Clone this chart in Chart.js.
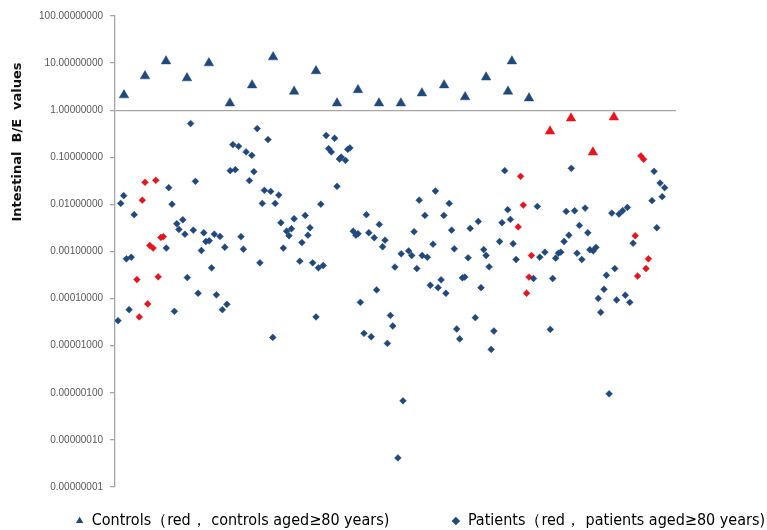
<!DOCTYPE html>
<html>
<head>
<meta charset="utf-8">
<script src="https://cdn.jsdelivr.net/npm/chart.js@4"></script>
<style>
  body { margin: 0; background: #fff; }
  #wrap { width: 767px; height: 530px; }
</style>
</head>
<body>
<div id="wrap"><canvas id="chart" width="767" height="530"></canvas></div>
<script>
// y axis: powers of ten shown as 8-decimal labels
const yTicks = [100, 10, 1, 0.1, 0.01, 0.001, 0.0001, 0.00001, 0.000001, 0.0000001, 0.00000001];
const yTitle = "Intestinal  B/E  values";
const legendLabels = ["Controls（red， controls aged≥80 years)", "Patients（red， patients aged≥80 years)"];

// x = sample position along the (unlabelled) horizontal axis
const controlX = [3, 10, 17, 24, 31.3, 38.3, 45.7, 52.7, 59.7, 67, 74, 81, 88, 95.3, 102.3, 109.7, 116.7, 123.7, 131, 132.3, 138];
const controlY = [2.09, 5.3, 11.0, 4.8, 10.0, 1.41, 3.4, 13.4, 2.5, 6.8, 1.41, 2.7, 1.41, 1.41, 2.3, 3.4, 1.9, 5.0, 2.5, 11.0, 1.8];

const controlOldX = [145, 152, 159.3, 166.3];
const controlOldY = [0.357, 0.675, 0.128, 0.71];

const patientX = [
  25.2, 39.3, 41.2, 43.7, 45.6, 38.4, 40.1, 46.3, 44.8, 26.8, 17.9, 2.9, 1.9, 19, 6.4, 20.6, 22.6, 21.3, 23.3, 26.1,
  29.6, 30.3, 31.4, 33.1, 35, 42, 36.6, 42.8, 17.1, 28.8, 3.8, 5.4, 32.2, 24.1, 27.7, 33.8, 37.3, 35.8, 4.7, 19.8, 1,
  47.4, 51, 70.4, 73.2, 71.2, 72.1, 77.6, 78.3, 75.4, 74.8, 76.8, 74, 49.8, 51.9, 54.6, 49.1, 53.4, 68.6, 63.4, 59.7,
  55.3, 57.2, 58.8, 58, 65, 64.3, 62.3, 56.1, 48.3, 61.6, 65.9, 67.8, 69.4, 83.8, 88.1, 79.4, 80.3, 81, 84.6, 86.4,
  90, 89.2, 93.3, 87.2, 81.8, 67, 91.8, 92.6, 83, 85.4, 90.8, 52.6,
  129.9, 106.8, 101.4, 111.4, 130.9, 103.3, 109.6, 121.1, 129, 131.8, 99.7, 112.2, 118.4, 106, 128.2, 132.7, 113.1,
  97.9, 95.4, 98.9, 102.4, 104.1, 122.9, 123.7, 117.7, 133.7, 100.6, 124.7, 139.5, 115.8, 116.6, 108.7, 105.1, 107.7,
  110.3, 122, 120.1, 113.9, 126.3, 114.9, 125.4,
  152.1, 179.7, 181.7, 183.2, 179, 182.4, 180.6, 140.8, 150.4, 153.2, 156.7, 165.6, 168, 169.2, 170.8, 154.8, 157.6,
  151.3, 149.7, 143.3, 141.6, 146.9, 147.8, 148.6, 154, 155.6, 158.3, 159.4, 160.3, 172.7, 166.6, 163.8, 145.9, 163,
  161.1, 167.2, 170.1, 171.6, 161.9, 145.1,
  96, 94.3, 164.7
];
const patientY = [
  0.52, 0.186, 0.171, 0.13, 0.11, 0.0521, 0.0547, 0.0496, 0.0321, 0.0309, 0.0227, 0.0153, 0.0105, 0.0101, 0.00604,
  0.00388, 0.00472, 0.00294, 0.00233, 0.00284, 0.0025, 0.00163, 0.00169, 0.00233, 0.00209, 0.00206, 0.00123, 0.00112,
  0.00118, 0.00105, 0.0007, 0.000756, 0.00045, 0.00028, 0.00013, 0.00012, 0.0000757, 0.0000583, 0.0000583, 0.0000537,
  0.000034,
  0.408, 0.238, 0.29, 0.254, 0.153, 0.13, 0.148, 0.158, 0.101, 0.092, 0.0863, 0.0242, 0.0199, 0.0189, 0.0158, 0.0105,
  0.0105, 0.0101, 0.00583, 0.00496, 0.00408, 0.0027, 0.00304, 0.00216, 0.00319, 0.00222, 0.00155, 0.00118, 0.000575,
  0.000622, 0.000575, 0.00045, 0.000504, 0.00604, 0.00375, 0.0027, 0.00222, 0.00238, 0.0025, 0.00196, 0.00174, 0.00126,
  0.000468, 0.000153, 0.0000834, 0.0000408, 0.0000439, 0.0000262, 0.0000183, 0.0000155, 0.0000112, 0.000015,
  0.0521, 0.0192, 0.0123, 0.0105, 0.00771, 0.00583, 0.00583, 0.00435, 0.00408, 0.0048, 0.00263, 0.00284, 0.00309,
  0.00143, 0.00163, 0.00146, 0.00114, 0.00103, 0.000893, 0.000822, 0.000822, 0.000756, 0.0011, 0.000822, 0.000735,
  0.000676, 0.000435, 0.000472, 0.000267, 0.000276, 0.000286, 0.00025, 0.000192, 0.000171, 0.00013, 0.000171,
  0.0000394, 0.0000226, 0.0000205, 0.0000139, 0.00000834,
  0.0583, 0.0504, 0.0284, 0.0227, 0.012, 0.0146, 0.00319, 0.00906, 0.0071, 0.00734, 0.00834, 0.00653, 0.00622, 0.00734,
  0.00863, 0.00357, 0.0025, 0.00222, 0.00163, 0.000967, 0.000756, 0.00072, 0.00092, 0.000967, 0.00092, 0.000676,
  0.00109, 0.00103, 0.00122, 0.0015, 0.000435, 0.000313, 0.000267, 0.000158, 0.000101, 0.0000938, 0.000118, 0.0000834,
  0.0000512, 0.0000222,
  0.000000676, 0.0000000414, 0.000000952
];

const patientOldX = [10, 13.6, 9.1, 15.3, 16.1, 11.6, 12.7, 7.3, 14.4, 10.9, 8.1, 135.2, 136.1, 134.4, 138.8, 138, 137.2, 175.3, 176.2, 173.4, 177.8, 177, 174.2];
const patientOldY = [0.0294, 0.0324, 0.0123, 0.00199, 0.00206, 0.00134, 0.00118, 0.000254, 0.00029, 0.0000771, 0.0000408, 0.0394, 0.00967, 0.00332, 0.000822, 0.000287, 0.00013, 0.107, 0.0906, 0.00216, 0.0007, 0.000435, 0.000301];

const BLUE = "#1f497d";
const RED = "#e8141b";

function pts(xs, ys) {
    return xs.map((x, i) => ({ x: x, y: ys[i] }));
}

const yTitlePlugin = {
    id: "yTitle",
    afterDraw(chart) {
        const ctx = chart.ctx;
        ctx.save();
        ctx.translate(18, 142);
        ctx.rotate(-Math.PI / 2);
        ctx.font = 'bold 13px "DejaVu Sans"';
        ctx.fillStyle = "#111";
        ctx.textAlign = "center";
        ctx.textBaseline = "middle";
        ctx.fillText(yTitle, 0, 0);
        ctx.restore();
    }
};

new Chart(document.getElementById("chart"), {
    type: "scatter",
    data: {
        datasets: [
            { label: "Patients", data: pts(patientX, patientY), pointStyle: "rectRot", pointRadius: 3.4, backgroundColor: BLUE, borderColor: BLUE, borderWidth: 0.5 },
            { label: "Patients ≥80", data: pts(patientOldX, patientOldY), pointStyle: "rectRot", pointRadius: 3.4, backgroundColor: RED, borderColor: RED, borderWidth: 0.5 },
            { label: "Controls", data: pts(controlX, controlY), pointStyle: "triangle", pointRadius: 5.5, backgroundColor: BLUE, borderColor: BLUE, borderWidth: 0.5 },
            { label: "Controls ≥80", data: pts(controlOldX, controlOldY), pointStyle: "triangle", pointRadius: 5.5, backgroundColor: RED, borderColor: RED, borderWidth: 0.5 }
        ]
    },
    options: {
        responsive: false,
        animation: false,
        layout: { padding: { top: 16, left: 0, right: -24, bottom: -9 } },
        scales: {
            x: { type: "linear", min: 0, max: 187, display: false },
            y: {
                type: "logarithmic",
                min: 0.00000001,
                max: 100,
                afterBuildTicks: (s) => { s.ticks = yTicks.map((v) => ({ value: v })); },
                afterFit: (s) => { s.width = 115; },
                ticks: {
                    autoSkip: false,
                    padding: 7,
                    color: "#595959",
                    font: { family: '"Liberation Sans", Arial, sans-serif', size: 10 },
                    callback: (v) => Number(v).toFixed(8)
                },
                grid: {
                    color: (c) => (c.tick && c.tick.value === 1 ? "#a6a6a6" : "rgba(0,0,0,0)"),
                    lineWidth: 1.3,
                    tickColor: "#a6a6a6",
                    tickLength: 5
                },
                border: { color: "#a6a6a6", width: 1.3 }
            },
            yRight: {
                type: "linear",
                position: "right",
                afterFit: (s) => { s.width = 115; },
                ticks: { display: false },
                grid: { display: false },
                border: { display: false }
            }
        },
        plugins: {
            tooltip: { enabled: false },
            legend: {
                position: "bottom",
                align: "end",
                labels: {
                    usePointStyle: true,
                    boxWidth: 8,
                    boxHeight: 6,
                    padding: 26,
                    color: "#1a1a1a",
                    font: { family: '"Liberation Sans Narrow", "DejaVu Sans Condensed", sans-serif', size: 16 },
                    generateLabels: () => [
                        { text: legendLabels[0] + "        ", fillStyle: BLUE, strokeStyle: BLUE, lineWidth: 0, pointStyle: "triangle", datasetIndex: 2 },
                        { text: legendLabels[1], fillStyle: BLUE, strokeStyle: BLUE, lineWidth: 0, pointStyle: "rectRot", datasetIndex: 0 }
                    ]
                }
            }
        }
    },
    plugins: [yTitlePlugin]
});
</script>
</body>
</html>
